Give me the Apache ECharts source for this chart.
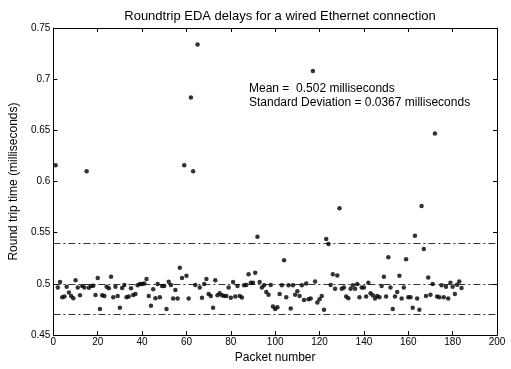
<!DOCTYPE html>
<html>
<head>
<meta charset="utf-8">
<script src="https://cdn.jsdelivr.net/npm/echarts@6/dist/echarts.min.js"></script>
<style>
html,body{margin:0;padding:0;background:#fff;}
#chart{width:511px;height:369px;}
</style>
</head>
<body>
<div id="chart"></div>
<script>
// Round trip times (ms), one per packet, packet number = position (1-based)
const delays = [
0.616,0.4966,0.5018,0.4870,0.4876,0.4973,0.4915,0.4883,0.4860,0.5037,
0.4966,0.4889,0.4979,0.4966,0.610,0.4963,0.4979,0.4982,0.4892,0.5059,
0.4754,0.4889,0.4883,0.4973,0.4957,0.5069,0.4870,0.4973,0.4883,0.4767,
0.4960,0.4989,0.4870,0.4876,0.4957,0.4892,0.4902,0.4986,0.4998,0.4998,
0.5005,0.5047,0.4883,0.4786,0.4947,0.4860,0.4998,0.4870,0.4979,0.4979,
0.4754,0.5021,0.4989,0.4857,0.4940,0.4857,0.5159,0.5059,0.616,0.5079,
0.4857,0.682,0.610,0.4989,0.734,0.4966,0.4864,0.4998,0.5047,0.4902,
0.4883,0.4767,0.5037,0.4889,0.4908,0.4889,0.4883,0.4883,0.4966,0.4864,
0.5018,0.4876,0.4979,0.4883,0.4867,0.4986,0.4989,0.5095,0.5011,0.5011,
0.5108,0.546,0.5018,0.4966,0.4986,0.4921,0.4895,0.4989,0.4780,0.4754,
0.4773,0.4902,0.4986,0.523,0.4870,0.4986,0.4760,0.4986,0.4895,0.4928,
0.4883,0.4986,0.4844,0.5005,0.4851,0.4857,0.708,0.5024,0.4818,0.4851,
0.4883,0.4748,0.544,0.539,0.4989,0.5095,0.4954,0.5082,0.574,0.4954,
0.4966,0.4876,0.4860,0.4954,0.4986,0.4954,0.4998,0.4870,0.4966,0.4966,
0.4876,0.5011,0.4908,0.4889,0.4857,0.4883,0.4870,0.4979,0.5069,0.4876,
0.526,0.4966,0.4754,0.4876,0.4921,0.5079,0.4857,0.4966,0.524,0.4870,
0.4870,0.4767,0.547,0.4857,0.4748,0.576,0.534,0.4883,0.5063,0.4895,
0.4998,0.647,0.4876,0.4870,0.4986,0.4870,0.4973,0.4857,0.5011,0.4973,
0.4902,0.4992,0.5024,0.4960
];
const meanValue = 0.502;
const stdValue = 0.0367;
const xTicks = [0,20,40,60,80,100,120,140,160,180,200];
const yTicks = [0.45,0.5,0.55,0.6,0.65,0.7,0.75];

const FONT = 'Liberation Sans, Arial, sans-serif';
const points = delays.map((v,i)=>[i+1, v]);

const chart = echarts.init(document.getElementById('chart'), null, {renderer:'canvas'});
const axisCommon = {
  axisLine:{show:true, onZero:false, lineStyle:{color:'#000', width:1}},
  axisTick:{show:true, inside:true, length:4, lineStyle:{color:'#000', width:1}},
  splitLine:{show:false}
};
chart.setOption({
  animation:false,
  backgroundColor:'#fff',
  title:{
    text:'Roundtrip EDA delays for a wired Ethernet connection',
    left:275, top:5, textAlign:'center',
    textStyle:{fontFamily:FONT, fontSize:13, fontWeight:'normal', color:'#000'}
  },
  grid:{left:52, right:14, top:28, bottom:30, containLabel:false},
  xAxis:[
    Object.assign({type:'value', min:xTicks[0], max:xTicks[xTicks.length-1], interval:20, position:'bottom',
      name:'Packet number', nameLocation:'middle', nameGap:13,
      nameTextStyle:{fontFamily:FONT, fontSize:12, color:'#000'},
      axisLabel:{margin:2, fontFamily:FONT, fontSize:10, color:'#000'}}, axisCommon),
    Object.assign({type:'value', min:xTicks[0], max:xTicks[xTicks.length-1], interval:20, position:'top',
      axisLabel:{show:false}}, axisCommon)
  ],
  yAxis:[
    Object.assign({type:'value', min:yTicks[0], max:yTicks[yTicks.length-1], interval:0.05, position:'left',
      name:'Round trip time (milliseconds)', nameLocation:'middle', nameGap:27,
      nameTextStyle:{fontFamily:FONT, fontSize:12, color:'#000'},
      axisLabel:{margin:3, fontFamily:FONT, fontSize:10, color:'#000',
        formatter:v=>String(+v.toFixed(2))}}, axisCommon),
    Object.assign({type:'value', min:yTicks[0], max:yTicks[yTicks.length-1], interval:0.05, position:'right',
      axisLabel:{show:false}}, axisCommon)
  ],
  graphic:[
    {type:'text', left:249, top:83, style:{text:'Mean =  ' + meanValue.toFixed(3) + ' milliseconds', fontFamily:FONT, fontSize:12, fill:'#000'}},
    {type:'text', left:249, top:97, style:{text:'Standard Deviation = ' + stdValue.toFixed(4) + ' milliseconds', fontFamily:FONT, fontSize:12, fill:'#000'}}
  ],
  series:[{
    type:'scatter',
    xAxisIndex:0, yAxisIndex:0,
    data:points,
    symbol:'circle',
    symbolSize:4.5,
    itemStyle:{color:'#000'},
    silent:true,
    markLine:{
      silent:true,
      symbol:['none','none'],
      label:{show:false},
      lineStyle:{color:'#000', width:0.8, type:[7,3,2,3]},
      data:[
        {yAxis: meanValue - stdValue},
        {yAxis: meanValue},
        {yAxis: meanValue + stdValue}
      ]
    }
  }]
});
</script>
</body>
</html>
